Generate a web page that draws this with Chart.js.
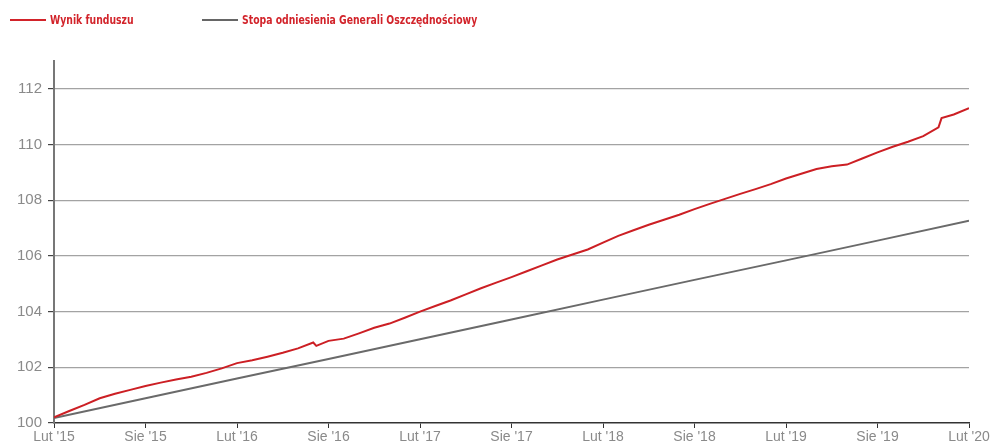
<!DOCTYPE html>
<html>
<head>
  <title>Wynik funduszu</title>
  <script src="https://cdn.jsdelivr.net/npm/chart.js"></script>
  <style>
    body { margin: 0; background: #fff; }
    #wrap { position: relative; width: 1001px; height: 445px; }
    .legend { position: absolute; top: 12px; font-family: "Liberation Sans Narrow", "DejaVu Sans Condensed", sans-serif;
      font-weight: bold; font-size: 12px; color: #d2232a; line-height: 16px; white-space: nowrap; }
    .legend span.line { display: inline-block; width: 36px; height: 2px; vertical-align: middle; margin-right: 4px; margin-top: -2px; }
    .legend span.txt { display: inline-block; transform: scaleX(0.86); transform-origin: left center; }
  </style>
</head>
<body>
  <div id="wrap">
    <div class="legend" style="left: 10px;"><span class="line" style="background:#d2232a"></span><span class="txt">Wynik funduszu</span></div>
    <div class="legend" style="left: 202px;"><span class="line" style="background:#666"></span><span class="txt">Stopa odniesienia Generali Oszczędnościowy</span></div>
    <canvas id="myChart" width="1001" height="445"></canvas>
  </div>

  <script>
    // months counted from Feb 2015 (extra points where the fund line jumps)
    const fundMonths = [0, 1, 2, 3, 4, 5, 6, 7, 8, 9, 10, 11, 12, 13, 14, 15, 16, 17, 17.2, 18, 19, 20,
      21, 22, 23, 24, 25, 26, 27, 28, 29, 30, 31, 32, 33, 34, 35, 36, 37, 38, 39, 40,
      41, 42, 43, 44, 45, 46, 47, 48, 49, 50, 51, 52, 53, 54, 55, 56, 57, 58, 58.2, 59, 60];
    const fundValues = [100.20, 100.43, 100.65, 100.89, 101.05, 101.19, 101.33, 101.45, 101.56, 101.66,
      101.80, 101.96, 102.15, 102.25, 102.38, 102.52, 102.68, 102.89, 102.77, 102.95, 103.03, 103.22,
      103.42, 103.57, 103.78, 104.00, 104.20, 104.40, 104.62, 104.84, 105.04, 105.24, 105.45, 105.66,
      105.87, 106.05, 106.23, 106.48, 106.72, 106.92, 107.12, 107.30, 107.48, 107.68, 107.87, 108.05,
      108.23, 108.40, 108.58, 108.78, 108.95, 109.12, 109.22, 109.28, 109.50, 109.72, 109.92, 110.10,
      110.30, 110.62, 110.95, 111.08, 111.31];

    const benchMonths = [0, 6, 12, 18, 24, 30, 36, 42, 48, 54, 60];
    const benchValues = [100.18, 100.89, 101.60, 102.30, 103.01, 103.72, 104.43, 105.14, 105.84, 106.55, 107.26];

    const xTickLabels = ["Lut '15", "Sie '15", "Lut '16", "Sie '16", "Lut '17", "Sie '17",
      "Lut '18", "Sie '18", "Lut '19", "Sie '19", "Lut '20"];
    const yTickValues = [100, 102, 104, 106, 108, 110, 112];

    const toPoints = (xs, ys) => xs.map((x, i) => ({ x: x, y: ys[i] }));

    const ctx = document.getElementById('myChart').getContext('2d');
    const myChart = new Chart(ctx, {
      type: 'line',
      data: {
        datasets: [
          {
            label: 'Wynik funduszu',
            data: toPoints(fundMonths, fundValues),
            borderColor: '#cc1f24',
            borderWidth: 2,
            pointRadius: 0,
            tension: 0
          }, {
            label: 'Stopa odniesienia Generali Oszczędnościowy',
            data: toPoints(benchMonths, benchValues),
            borderColor: '#6a6a6a',
            borderWidth: 2,
            pointRadius: 0,
            tension: 0
          }
        ]
      },
      options: {
        responsive: false,
        animation: false,
        layout: { padding: { left: 0, right: 32, top: 61, bottom: 0 } },
        plugins: { legend: { display: false }, tooltip: { enabled: false } },
        scales: {
          x: {
            type: 'linear',
            min: 0,
            max: 60,
            afterBuildTicks: (scale) => { scale.ticks = xTickLabels.map((l, i) => ({ value: i * 6 })); },
            afterFit: (scale) => { scale.height = 22; },
            ticks: {
              autoSkip: false,
              maxRotation: 0,
              padding: 1,
              color: '#8a8a8a',
              font: { family: 'Liberation Sans', size: 14 },
              callback: (v) => xTickLabels[Math.round(v / 6)]
            },
            grid: { drawOnChartArea: false, drawTicks: true, tickLength: 5, tickColor: '#333' },
            border: { color: '#333', width: 1.5 }
          },
          y: {
            min: 100,
            max: 113,
            afterBuildTicks: (scale) => { scale.ticks = yTickValues.map(v => ({ value: v })); },
            afterFit: (scale) => { scale.width = 54; },
            ticks: {
              padding: 6,
              color: '#8a8a8a',
              font: { family: 'Liberation Sans', size: 15 }
            },
            grid: {
              color: (c) => c.tick && c.tick.value === 100 ? 'rgba(0,0,0,0)' : '#a3a3a3',
              lineWidth: 1.2,
              tickLength: 6,
              tickColor: '#444'
            },
            border: { color: '#777', width: 2 }
          }
        }
      }
    });
  </script>
</body>
</html>
